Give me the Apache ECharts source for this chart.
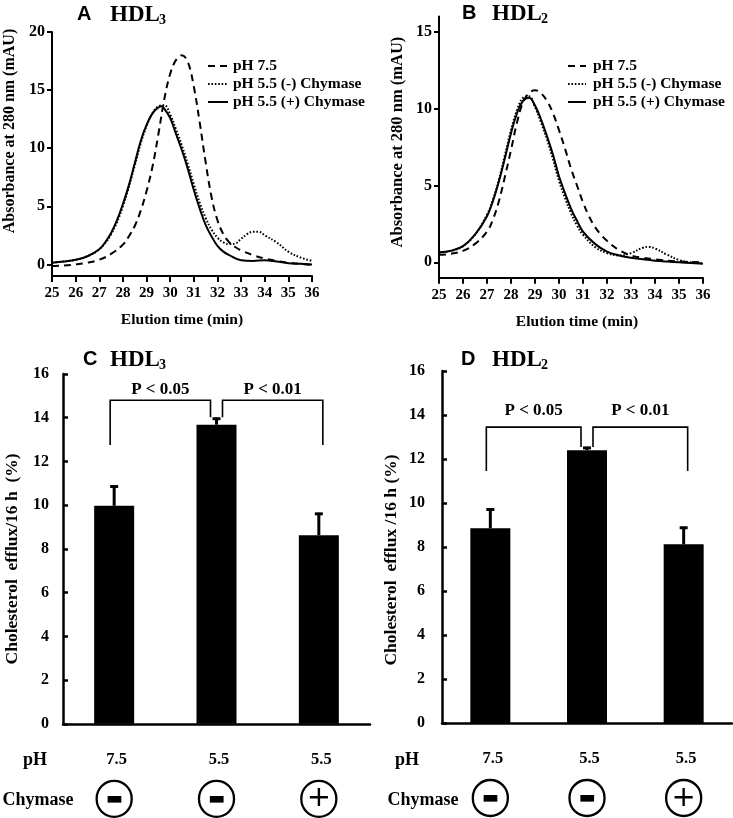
<!DOCTYPE html>
<html>
<head>
<meta charset="utf-8">
<script src="https://cdn.jsdelivr.net/npm/echarts@6.0.0/dist/echarts.min.js"></script>
<style>
html,body{margin:0;padding:0;background:#fff;}
#chart{width:733px;height:818px;}
</style>
</head>
<body>
<div id="chart"></div>
<script>
// ---------- Panel A (HDL3) chromatograms ----------
const xTicks = [25,26,27,28,29,30,31,32,33,34,35,36];
const yTicksA = [0,5,10,15,20];
const yTicksB = [0,5,10,15];
const seriesNames = ['pH 7.5', 'pH 5.5 (-) Chymase', 'pH 5.5 (+) Chymase'];

const tA75 = [25,25.5,26,26.5,27,27.5,28,28.25,28.5,28.75,29,29.25,29.5,29.75,30,30.25,30.5,30.75,31,31.25,31.5,31.75,32,32.25,32.5,32.75,33,33.5,34,34.5,35,35.5,36];
const aA75 = [-0.15,-0.1,0,0.15,0.4,0.9,1.7,2.4,3.3,4.6,6.3,8.4,11.2,14.2,16.4,17.6,18.0,17.4,15.3,12.2,8.8,5.8,3.8,2.6,1.9,1.5,1.2,0.8,0.5,0.3,0.15,0.05,-0.05];

const tA55m = [25,25.5,26,26.5,27,27.5,28,28.5,28.75,29,29.25,29.5,29.75,30,30.25,30.5,30.75,31,31.25,31.5,31.75,32,32.25,32.5,32.75,33,33.25,33.5,33.75,34,34.5,35,35.5,36];
const aA55m = [0.15,0.25,0.4,0.7,1.3,2.6,5.0,8.5,10.4,11.9,13.0,13.6,13.7,12.9,11.6,10.2,8.6,6.9,5.3,4.0,3.0,2.3,1.9,1.75,1.8,2.2,2.6,2.8,2.8,2.5,1.9,1.1,0.6,0.3];

const tA55p = [25,25.5,26,26.5,27,27.25,27.5,27.75,28,28.25,28.5,28.75,29,29.25,29.5,29.65,29.75,30,30.25,30.5,30.75,31,31.25,31.5,31.75,32,32.25,32.5,33,33.5,34,34.5,35,35.5,36];
const aA55p = [0.15,0.25,0.4,0.7,1.3,1.9,2.7,3.8,5.2,6.8,8.7,10.6,12.0,13.0,13.5,13.6,13.4,12.6,11.2,9.8,8.2,6.4,4.8,3.4,2.4,1.6,1.1,0.8,0.35,0.3,0.35,0.25,0.1,0.05,0.0];

// ---------- Panel B (HDL2) chromatograms ----------
const tB75 = [25,25.5,26,26.5,27,27.25,27.5,27.75,28,28.25,28.5,28.75,29,29.25,29.5,29.75,30,30.25,30.5,30.75,31,31.25,31.5,31.75,32,32.5,33,33.5,34,35,36];
const aB75 = [0.5,0.55,0.75,1.2,2.0,2.8,4.0,5.6,7.3,9.1,10.4,11.0,11.2,11.0,10.5,9.7,8.6,7.4,6.1,5.0,3.9,3.0,2.3,1.8,1.4,0.8,0.45,0.3,0.2,0.05,0.0];

const tB55m = [25,25.5,26,26.5,27,27.25,27.5,27.75,28,28.25,28.5,28.75,29,29.25,29.5,29.75,30,30.25,30.5,30.75,31,31.5,32,32.5,33,33.5,33.75,34,34.5,35,35.5,36];
const aB55m = [0.6,0.75,1.05,1.8,3.1,4.1,5.4,7.0,8.6,9.9,10.7,10.8,10.1,9.1,8.0,6.7,5.3,4.2,3.2,2.4,1.8,1.0,0.6,0.45,0.6,0.95,1.0,0.9,0.5,0.15,0.0,-0.05];

const tB55p = [25,25.5,26,26.5,27,27.25,27.5,27.75,28,28.25,28.5,28.75,29,29.25,29.5,29.75,30,30.25,30.5,30.75,31,31.5,32,32.5,33,33.5,34,34.5,35,35.5,36];
const aB55p = [0.65,0.75,1.05,1.8,3.0,4.0,5.3,6.8,8.4,9.7,10.5,10.7,10.2,9.3,8.2,7.0,5.6,4.5,3.5,2.7,2.0,1.2,0.7,0.45,0.3,0.2,0.1,0.05,0.0,-0.05,-0.1];

// ---------- Panels C and D (efflux bars) ----------
const conditions = ['pH 7.5, no chymase', 'pH 5.5, no chymase', 'pH 5.5, with chymase'];
const phLabels = ['7.5', '5.5', '5.5'];
const chymaseSigns = ['-', '-', '+'];
const yTicksBar = [0,2,4,6,8,10,12,14,16];

const effluxC = [9.97, 13.68, 8.63];
const errC = [0.93, 0.32, 1.02];
const effluxD = [8.85, 12.4, 8.12];
const errD = [0.9, 0.15, 0.8];

// brackets: [fromIndex, toIndex, startValue, topValue, endValue, labelValue]
const bracketsC = [[0, 1, 12.75, 14.8, 14.02, 15.3], [1, 2, 14.02, 14.8, 12.75, 15.3]];
const bracketsD = [[0, 1, 11.45, 13.45, 12.55, 14.2], [1, 2, 12.55, 13.45, 11.45, 14.2]];
const pLabels = ['P < 0.05', 'P < 0.01'];

// ---------- helpers ----------
const SERIF = '"Liberation Serif", "Times New Roman", serif';
const SANS = '"Liberation Sans", Arial, sans-serif';
const pairs = (xs, ys) => xs.map((x, i) => [x, ys[i]]);
const lineStyles = [
  {color: '#000', width: 2, type: [7, 5]},
  {color: '#000', width: 2, type: [1.6, 1.8]},
  {color: '#000', width: 2, type: 'solid'}
];

function lineSeries(name, idx, data, styleIdx) {
  return {
    type: 'line', name: name, xAxisIndex: idx, yAxisIndex: idx,
    data: data, smooth: 0.4, symbol: 'none', showSymbol: false,
    lineStyle: lineStyles[styleIdx], itemStyle: {color: '#000'},
    silent: true, z: 3 + styleIdx
  };
}

function errRender(params, api) {
  const i = api.value(0), v = api.value(1), e = api.value(2);
  const base = api.coord([i, v]);
  const top = api.coord([i, v + e]);
  const half = 4;
  return {type: 'group', children: [
    {type: 'line', shape: {x1: base[0], y1: base[1], x2: top[0], y2: top[1]}, style: {stroke: '#000', lineWidth: 3}},
    {type: 'line', shape: {x1: top[0] - half, y1: top[1] + 1, x2: top[0] + half, y2: top[1] + 1}, style: {stroke: '#000', lineWidth: 3}}
  ]};
}

function bracketRenderFactory() {
  return function (params, api) {
    const a = api.value(0), b = api.value(1);
    const y0 = api.value(2), yt = api.value(3), y1 = api.value(4), yl = api.value(5);
    const off = params.dataIndex === 0 ? [-4, -6] : [6, 4];
    const pA0 = api.coord([a, y0]), pAt = api.coord([a, yt]);
    const pBt = api.coord([b, yt]), pB1 = api.coord([b, y1]);
    const xa = pA0[0] + off[0], xb = pBt[0] + off[1];
    const lab = api.coord([a, yl]);
    return {type: 'group', children: [
      {type: 'polyline', shape: {points: [[xa, pA0[1]], [xa, pAt[1]], [xb, pBt[1]], [xb, pB1[1]]]},
        style: {stroke: '#000', lineWidth: 1.6, fill: null}},
      {type: 'text', x: (xa + xb) / 2, y: lab[1],
        style: {text: pLabels[params.dataIndex], font: 'bold 17px ' + SERIF, fill: '#000', align: 'center', verticalAlign: 'middle'}}
    ]};
  };
}

const axisLabelSerif = (size) => ({fontFamily: SERIF, fontWeight: 'bold', fontSize: size, color: '#000'});

function barXAxis(grid) {
  return {
    type: 'category', gridIndex: grid, data: conditions,
    axisLine: {lineStyle: {color: '#000', width: 2.5}},
    axisTick: {show: false},
    splitLine: {show: false},
    axisLabel: {
      interval: 0, margin: 17,
      formatter: function (v, i) {
        return '{v|' + phLabels[i] + '}\n' + (chymaseSigns[i] === '+' ? '{p|+}' : '{m|\u25AC}');
      },
      rich: {
        v: {fontFamily: SERIF, fontWeight: 'bold', fontSize: 16.5, lineHeight: 38, color: '#000', padding: [0, 0, 0, 5]},
        m: {fontFamily: '"DejaVu Sans"', fontSize: 18, width: 35, height: 36, lineHeight: 40, align: 'center',
            borderColor: '#000', borderWidth: 2.3, borderRadius: 19, color: '#000'},
        p: {fontFamily: '"DejaVu Sans"', fontSize: 29, width: 35, height: 36, lineHeight: 40, align: 'center',
            borderColor: '#000', borderWidth: 2.3, borderRadius: 19, color: '#000'}
      }
    }
  };
}

function barYAxis(grid, name, gap, pad) {
  return {
    type: 'value', gridIndex: grid, min: 0, max: 16, interval: 2,
    axisLine: {show: true, lineStyle: {color: '#000', width: 2.5}},
    axisTick: {show: true, inside: true, length: 5, lineStyle: {color: '#000', width: 2.5}},
    splitLine: {show: false},
    axisLabel: Object.assign({margin: gap}, axisLabelSerif(16)),
    name: name, nameLocation: 'middle', nameRotate: 90, nameGap: 42,
    nameTextStyle: {fontFamily: SERIF, fontWeight: 'bold', fontSize: 17.5, color: '#000', padding: pad}
  };
}

const legendBase = {
  orient: 'vertical', itemWidth: 20, itemHeight: 14, itemGap: 2,
  data: seriesNames, selectedMode: false,
  itemStyle: {opacity: 0},
  textStyle: {fontFamily: SERIF, fontWeight: 'bold', fontSize: 15.5, color: '#000', lineHeight: 15}
};

const chart = echarts.init(document.getElementById('chart'), null, {renderer: 'canvas'});

const option = {
  animation: false,
  backgroundColor: '#fff',
  grid: [
    {left: 52, top: 32, width: 260, height: 244},
    {left: 439, top: 16.4, width: 264, height: 261.3},
    {left: 63, top: 374, width: 307, height: 351},
    {left: 442, top: 371, width: 290, height: 352}
  ],
  legend: [
    Object.assign({}, legendBase, {left: 202, top: 53}),
    Object.assign({}, legendBase, {left: 562, top: 53, itemWidth: 18,
      textStyle: Object.assign({}, legendBase.textStyle, {padding: [0, 0, 0, 2]})})
  ],
  xAxis: [
    {type: 'value', gridIndex: 0, min: 25, max: 36, interval: 1,
      axisLine: {onZero: false, lineStyle: {color: '#000', width: 2}},
      axisTick: {length: 6, lineStyle: {color: '#000', width: 2}},
      splitLine: {show: false},
      axisLabel: Object.assign({margin: 10}, axisLabelSerif(15)),
      name: 'Elution time (min)', nameLocation: 'middle', nameGap: 36,
      nameTextStyle: {fontFamily: SERIF, fontWeight: 'bold', fontSize: 15.5, color: '#000'}},
    {type: 'value', gridIndex: 1, min: 25, max: 36, interval: 1,
      axisLine: {onZero: false, lineStyle: {color: '#000', width: 2}},
      axisTick: {length: 6, lineStyle: {color: '#000', width: 2}},
      splitLine: {show: false},
      axisLabel: Object.assign({margin: 10}, axisLabelSerif(15)),
      name: 'Elution time (min)', nameLocation: 'middle', nameGap: 36,
      nameTextStyle: {fontFamily: SERIF, fontWeight: 'bold', fontSize: 15.5, color: '#000', padding: [0, 0, 0, 12]}},
    barXAxis(2),
    barXAxis(3)
  ],
  yAxis: [
    {type: 'value', gridIndex: 0, min: -1, max: 20,
      axisLine: {show: true, onZero: false, lineStyle: {color: '#000', width: 2}},
      axisTick: {show: true, length: 5, customValues: yTicksA, lineStyle: {color: '#000', width: 2}},
      splitLine: {show: false},
      axisLabel: Object.assign({margin: 7, customValues: yTicksA}, axisLabelSerif(16)),
      name: 'Absorbance at 280 nm (mAU)', nameLocation: 'middle', nameRotate: 90, nameGap: 34,
      nameTextStyle: {fontFamily: SERIF, fontWeight: 'bold', fontSize: 16, color: '#000', padding: [0, 0, 0, 46]}},
    {type: 'value', gridIndex: 1, min: -1, max: 16,
      axisLine: {show: true, onZero: false, lineStyle: {color: '#000', width: 2}},
      axisTick: {show: true, length: 5, customValues: yTicksB, lineStyle: {color: '#000', width: 2}},
      splitLine: {show: false},
      axisLabel: Object.assign({margin: 7, customValues: yTicksB}, axisLabelSerif(16)),
      name: 'Absorbance at 280 nm (mAU)', nameLocation: 'middle', nameRotate: 90, nameGap: 33,
      nameTextStyle: {fontFamily: SERIF, fontWeight: 'bold', fontSize: 16.5, color: '#000', padding: [0, 0, 0, 10]}},
    barYAxis(2, 'Cholesterol  efflux/16 h  (%)', 14, [0, 20, 0, 0]),
    barYAxis(3, 'Cholesterol  efflux /16 h (%)', 17, [0, 26, 0, 0])
  ],
  series: [
    lineSeries(seriesNames[0], 0, pairs(tA75, aA75), 0),
    lineSeries(seriesNames[1], 0, pairs(tA55m, aA55m), 1),
    lineSeries(seriesNames[2], 0, pairs(tA55p, aA55p), 2),
    lineSeries(seriesNames[0], 1, pairs(tB75, aB75), 0),
    lineSeries(seriesNames[1], 1, pairs(tB55m, aB55m), 1),
    lineSeries(seriesNames[2], 1, pairs(tB55p, aB55p), 2),
    {type: 'bar', xAxisIndex: 2, yAxisIndex: 2, data: effluxC, barWidth: 40, itemStyle: {color: '#000'}, silent: true},
    {type: 'bar', xAxisIndex: 3, yAxisIndex: 3, data: effluxD, barWidth: 40, itemStyle: {color: '#000'}, silent: true},
    {type: 'custom', xAxisIndex: 2, yAxisIndex: 2, renderItem: errRender, silent: true, z: 5,
      encode: {x: 0, y: [1, 2]}, data: effluxC.map((v, i) => [i, v, errC[i]])},
    {type: 'custom', xAxisIndex: 3, yAxisIndex: 3, renderItem: errRender, silent: true, z: 5,
      encode: {x: 0, y: [1, 2]}, data: effluxD.map((v, i) => [i, v, errD[i]])},
    {type: 'custom', xAxisIndex: 2, yAxisIndex: 2, renderItem: bracketRenderFactory(), silent: true, z: 6,
      encode: {x: [0, 1], y: [2, 3, 4, 5]}, data: bracketsC},
    {type: 'custom', xAxisIndex: 3, yAxisIndex: 3, renderItem: bracketRenderFactory(), silent: true, z: 6,
      encode: {x: [0, 1], y: [2, 3, 4, 5]}, data: bracketsD}
  ],
  graphic: [
    // panel titles
    {type: 'text', x: 77, y: 14, style: {text: 'A', font: 'bold 20px ' + SANS, fill: '#000', verticalAlign: 'middle'}},
    {type: 'text', x: 110, y: 15, style: {text: 'HDL', font: 'bold 23px ' + SERIF, fill: '#000', verticalAlign: 'middle'}},
    {type: 'text', x: 159, y: 20, style: {text: '3', font: 'bold 14px ' + SERIF, fill: '#000', verticalAlign: 'middle'}},
    {type: 'text', x: 462, y: 13, style: {text: 'B', font: 'bold 20px ' + SANS, fill: '#000', verticalAlign: 'middle'}},
    {type: 'text', x: 492, y: 14, style: {text: 'HDL', font: 'bold 23px ' + SERIF, fill: '#000', verticalAlign: 'middle'}},
    {type: 'text', x: 541, y: 19, style: {text: '2', font: 'bold 14px ' + SERIF, fill: '#000', verticalAlign: 'middle'}},
    {type: 'text', x: 83, y: 359, style: {text: 'C', font: 'bold 20px ' + SANS, fill: '#000', verticalAlign: 'middle'}},
    {type: 'text', x: 110, y: 360, style: {text: 'HDL', font: 'bold 23px ' + SERIF, fill: '#000', verticalAlign: 'middle'}},
    {type: 'text', x: 159, y: 365, style: {text: '3', font: 'bold 14px ' + SERIF, fill: '#000', verticalAlign: 'middle'}},
    {type: 'text', x: 461, y: 359, style: {text: 'D', font: 'bold 20px ' + SANS, fill: '#000', verticalAlign: 'middle'}},
    {type: 'text', x: 492, y: 360, style: {text: 'HDL', font: 'bold 23px ' + SERIF, fill: '#000', verticalAlign: 'middle'}},
    {type: 'text', x: 541, y: 365, style: {text: '2', font: 'bold 14px ' + SERIF, fill: '#000', verticalAlign: 'middle'}},
    // row headers under bar panels
    {type: 'text', x: 35, y: 760, style: {text: 'pH', font: 'bold 18px ' + SERIF, fill: '#000', align: 'center', verticalAlign: 'middle'}},
    {type: 'text', x: 38, y: 800, style: {text: 'Chymase', font: 'bold 18px ' + SERIF, fill: '#000', align: 'center', verticalAlign: 'middle'}},
    {type: 'text', x: 407, y: 760, style: {text: 'pH', font: 'bold 18px ' + SERIF, fill: '#000', align: 'center', verticalAlign: 'middle'}},
    {type: 'text', x: 423, y: 800, style: {text: 'Chymase', font: 'bold 18px ' + SERIF, fill: '#000', align: 'center', verticalAlign: 'middle'}}
  ]
};

chart.setOption(option);
</script>
</body>
</html>
